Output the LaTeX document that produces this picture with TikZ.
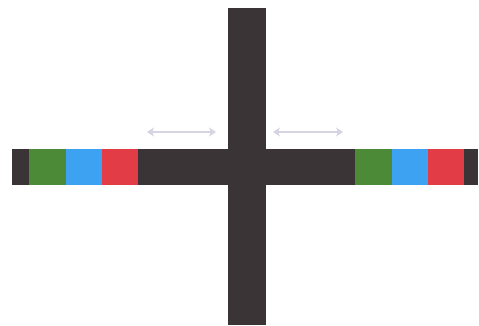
\documentclass[tikz,border=0pt]{standalone}
\usetikzlibrary{arrows.meta}
\definecolor{bardark}{HTML}{3A3436}
\definecolor{bargreen}{HTML}{4C8A38}
\definecolor{barblue}{HTML}{3DA2F2}
\definecolor{barred}{HTML}{E23C46}
\definecolor{arrowgray}{HTML}{D4D4E2}
\tikzset{
  barpart/.style={draw=none},
  movearrow/.style={arrowgray, line width=1.3pt, {Stealth[length=7pt,width=9pt,inset=2pt]}-{Stealth[length=7pt,width=9pt,inset=2pt]}}
}
\begin{document}
\begin{tikzpicture}[x=1pt,y=-1pt]
\useasboundingbox (0,0) rectangle (479,326);
\fill[white] (0,0) rectangle (479,326);
% horizontal bar
\fill[bardark,barpart] (12,149) rectangle (478,185);
% vertical bar
\fill[bardark,barpart] (228,8) rectangle (266,325);
% left colour blocks
\fill[bargreen,barpart] (29,149) rectangle (66,185);
\fill[barblue,barpart] (66,149) rectangle (102,185);
\fill[barred,barpart] (102,149) rectangle (138,185);
% right colour blocks
\fill[bargreen,barpart] (355,149) rectangle (392,185);
\fill[barblue,barpart] (392,149) rectangle (428,185);
\fill[barred,barpart] (428,149) rectangle (464,185);
% arrows
\coordinate (la) at (147,132);
\coordinate (lb) at (216,132);
\coordinate (ra) at (273,132);
\coordinate (rb) at (343,132);
\draw[movearrow] (la) -- (lb);
\draw[movearrow] (ra) -- (rb);
\end{tikzpicture}
\end{document}
